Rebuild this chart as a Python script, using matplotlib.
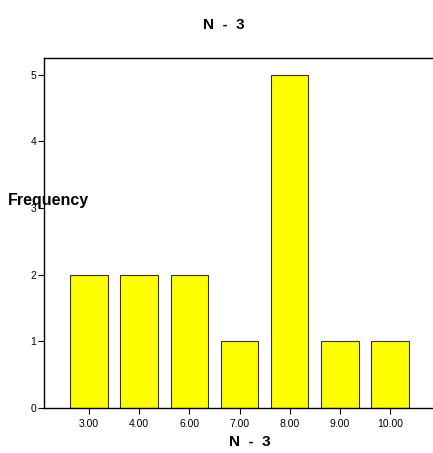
import matplotlib
matplotlib.use("Agg")
import matplotlib.pyplot as plt

categories = ["3.00", "4.00", "6.00", "7.00", "8.00", "9.00", "10.00"]
frequencies = [2, 2, 2, 1, 5, 1, 1]
yticks = [0, 1, 2, 3, 4, 5]

W, H = 433, 453
fig = plt.figure(figsize=(W / 100, H / 100), dpi=100)
ax = fig.add_axes([44 / W, (H - 408) / H, (432 - 44) / W, (408 - 58) / H])

x = list(range(len(categories)))
ax.bar(x, frequencies, width=0.75, color="#ffff00", edgecolor="#333333", linewidth=0.8, zorder=2)
ax.set_xlim(-0.9, 6.84)
ax.set_ylim(0, 5.25)
ax.set_xticks(x)
ax.set_xticklabels(categories, fontsize=7.5, family="Liberation Sans")
ax.set_yticks(yticks)
ax.set_yticklabels([str(v) for v in yticks], fontsize=7.5, family="Liberation Sans")
ax.tick_params(direction="out", length=4, width=0.8, pad=1.5)
ax.tick_params(axis="x", pad=4)
ax.spines["right"].set_visible(False)
for s in ["left", "bottom", "top"]:
    ax.spines[s].set_linewidth(1.0)

fig.text(224 / W, 1 - 25 / H, "N  -  3", ha="center", va="center", fontsize=11,
         fontweight="bold", family="Liberation Sans")
fig.text(250 / W, 1 - 442 / H, "N  -  3", ha="center", va="center", fontsize=11,
         fontweight="bold", family="Liberation Sans")
fig.text(8 / W, 1 - 200 / H, "Frequency", ha="left", va="center", fontsize=11.5,
         fontweight="bold", family="Liberation Sans")

fig.savefig("out.png", dpi=100)
